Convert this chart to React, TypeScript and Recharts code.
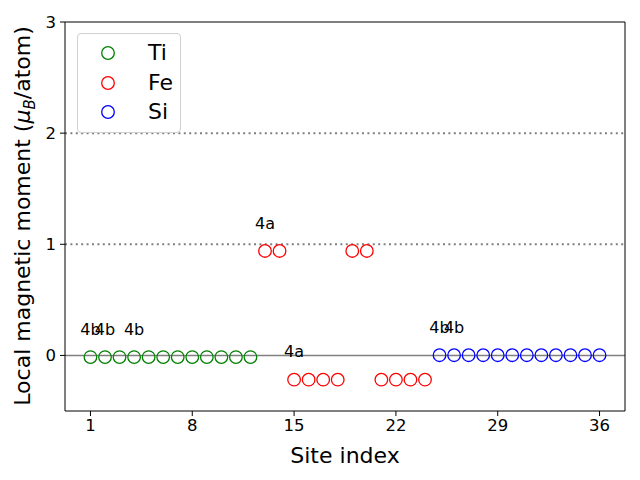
import React from "react";
import {
  ScatterChart,
  Scatter,
  XAxis,
  YAxis,
  ReferenceLine,
  Legend,
  Label,
} from "recharts";

// site indices and local moments (mu_B/atom) per element
const tiSites = [1, 2, 3, 4, 5, 6, 7, 8, 9, 10, 11, 12];
const tiMoments = [-0.015, -0.015, -0.015, -0.015, -0.015, -0.015, -0.015, -0.015, -0.015, -0.015, -0.015, -0.015];
const feSites = [13, 14, 15, 16, 17, 18, 19, 20, 21, 22, 23, 24];
const feMoments = [0.94, 0.94, -0.218, -0.218, -0.218, -0.218, 0.94, 0.94, -0.218, -0.218, -0.218, -0.218];
const siSites = [25, 26, 27, 28, 29, 30, 31, 32, 33, 34, 35, 36];
const siMoments = [0.002, 0.002, 0.002, 0.002, 0.002, 0.002, 0.002, 0.002, 0.002, 0.002, 0.002, 0.002];

// Wyckoff annotations
const labelSites = [1, 2, 4, 13, 15, 25, 26];
const labelTexts = ["4b", "4b", "4b", "4a", "4a", "4b", "4b"];
const labelOffset = 0.2;

const xTicks = [1, 8, 15, 22, 29, 36];
const yTicks = [0, 1, 2, 3];

const FONT = "DejaVu Sans, sans-serif";

const allSites = [...tiSites, ...feSites, ...siSites];
const allMoments = [...tiMoments, ...feMoments, ...siMoments];

const series = [
  { name: "Ti", color: "green", data: tiSites.map((s, i) => ({ site: s, moment: tiMoments[i] })) },
  { name: "Fe", color: "red", data: feSites.map((s, i) => ({ site: s, moment: feMoments[i] })) },
  { name: "Si", color: "blue", data: siSites.map((s, i) => ({ site: s, moment: siMoments[i] })) },
];

const labelData = labelSites.map((s, i) => ({
  site: s,
  moment: allMoments[allSites.indexOf(s)] + labelOffset,
  text: labelTexts[i],
}));

const ring = (color: string) => (props: any) => (
  <circle cx={props.cx} cy={props.cy} r={6.3} fill="none" stroke={color} strokeWidth={1.3} />
);

const annotation = (props: any) => (
  <text
    x={props.cx}
    y={props.cy}
    textAnchor="middle"
    fontFamily={FONT}
    fontSize={16}
    fill="#000"
  >
    {props.payload.text}
  </text>
);

function LegendBox() {
  return (
    <div
      style={{
        width: 102,
        height: 98,
        border: "1px solid #d0d0d0",
        borderRadius: 4,
        background: "rgba(255,255,255,0.8)",
        position: "relative",
        fontFamily: FONT,
        fontSize: 22,
      }}
    >
      {series.map((s, i) => (
        <div key={s.name} style={{ position: "absolute", left: 0, top: 6 + i * 29.5, height: 28, width: 102 }}>
          <svg width={40} height={28} style={{ position: "absolute", left: 10, top: 0 }}>
            <circle cx={20} cy={13} r={6.3} fill="none" stroke={s.color} strokeWidth={1.3} />
          </svg>
          <span style={{ position: "absolute", left: 70, top: -1, lineHeight: "28px", color: "#000" }}>{s.name}</span>
        </div>
      ))}
    </div>
  );
}

const yTitle = () => (
  <text
    transform="translate(30,216) rotate(-90)"
    textAnchor="middle"
    fontFamily={FONT}
    fontSize={22}
    fill="#000"
  >
    Local magnetic moment (
    <tspan fontStyle="italic">μ</tspan>
    <tspan fontStyle="italic" fontSize={15} dy={5}>B</tspan>
    <tspan dy={-5}>/atom)</tspan>
  </text>
);

export default function App() {
  return (
    <div style={{ position: "absolute", left: 0, top: 0, width: 640, height: 480, background: "#fff" }}>
      <ScatterChart width={640} height={480} margin={{ top: 22, right: 15, left: 0, bottom: 0 }}>
        <XAxis
          type="number"
          dataKey="site"
          domain={[-0.75, 37.75]}
          ticks={xTicks}
          allowDataOverflow
          height={69}
          tickSize={5}
          tickMargin={3}
          stroke="#000"
          tick={{ fill: "#000", fontSize: 16.5, fontFamily: FONT }}
        >
          <Label
            value="Site index"
            position="insideBottom"
            offset={17}
            style={{ fontSize: 22, fontFamily: FONT, fill: "#000" }}
          />
        </XAxis>
        <YAxis
          type="number"
          dataKey="moment"
          domain={[-0.5, 3]}
          ticks={yTicks}
          allowDataOverflow
          width={65}
          tickSize={5}
          tickMargin={4}
          stroke="#000"
          tick={{ fill: "#000", fontSize: 16.5, fontFamily: FONT }}
        >
          <Label content={yTitle} />
        </YAxis>
        <ReferenceLine y={0} stroke="#808080" strokeWidth={1.5} />
        <ReferenceLine y={1} stroke="#808080" strokeWidth={2} strokeDasharray="2 3.4" />
        <ReferenceLine y={2} stroke="#808080" strokeWidth={2} strokeDasharray="2 3.4" />
        <ReferenceLine y={3} stroke="#000" strokeWidth={1} />
        <ReferenceLine x={37.75} stroke="#000" strokeWidth={1} />
        {series.map((s) => (
          <Scatter
            key={s.name}
            name={s.name}
            data={s.data}
            shape={ring(s.color)}
            isAnimationActive={false}
          />
        ))}
        <Scatter name="labels" data={labelData} shape={annotation} isAnimationActive={false} legendType="none" />
        <Legend
          layout="vertical"
          align="center"
          verticalAlign="middle"
          content={() => <LegendBox />}
          wrapperStyle={{ left: 77, top: 33, width: 104, height: 100 }}
        />
      </ScatterChart>
    </div>
  );
}
